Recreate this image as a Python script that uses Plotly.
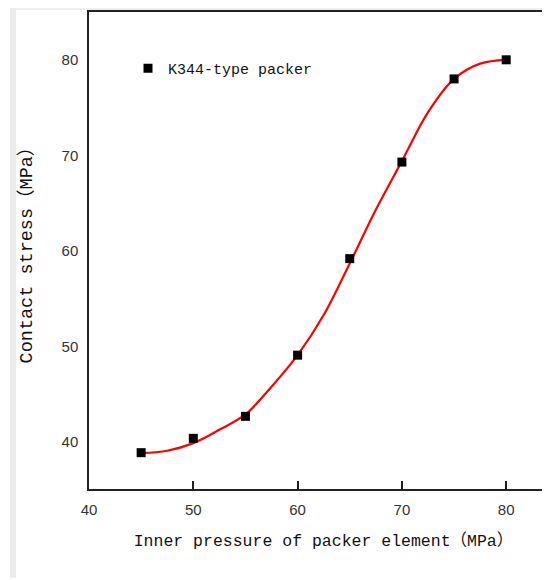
import plotly.graph_objects as go

# Data
inner_pressure = [45, 50, 55, 60, 65, 70, 75, 80]
contact_stress = [38.9, 40.4, 42.7, 49.1, 59.2, 69.3, 78.0, 80.0]
series_name = "K344-type packer"

# Fitted (red) curve
curve_x = [45, 47.5, 50, 52.5, 55, 57.5, 60, 62.5, 65, 67.5, 70, 72.5, 75, 77.5, 80]
curve_y = [38.85, 39.1, 39.9, 41.3, 42.9, 45.8, 49.1, 53.3, 58.7, 64.3, 69.4, 74.5, 78.0, 79.6, 80.0]

x_ticks = [40, 50, 60, 70, 80]
y_ticks = [40, 50, 60, 70, 80]

CJK = "<span style='font-family:\"Noto Sans CJK SC\"'>{}</span>"
x_title = "Inner pressure of packer element" + CJK.format("（") + "MPa" + CJK.format("）")
y_title = "Contact stress" + CJK.format("（") + "MPa" + CJK.format("）")

# page body offset of the html page (default body margin)
OFF = 8
W, H = 550, 580
L, T = 89 - OFF, 12 - OFF
B = H - (489 - OFF)
R = 0
pw, ph = W - L - R, H - T - B

fig = go.Figure()
fig.add_trace(go.Scatter(x=curve_x, y=curve_y, mode="lines",
                         line=dict(color="#ff0000", width=2.2, shape="spline", smoothing=1.0),
                         showlegend=False, hoverinfo="skip"))
fig.add_trace(go.Scatter(x=inner_pressure, y=contact_stress, mode="markers",
                         name=series_name,
                         marker=dict(symbol="square", size=9, color="black")))

def px(xpage):
    return (xpage - OFF - L) / pw

def py(ypage):
    return (H - B - (ypage - OFF)) / ph

shapes = [
    dict(type="rect", xref="paper", yref="paper", x0=px(10), x1=px(560), y0=py(10), y1=py(8),
         fillcolor="#efefef", line=dict(width=0), layer="below"),
    dict(type="rect", xref="paper", yref="paper", x0=px(10), x1=px(16), y0=py(578), y1=py(8),
         fillcolor="#ebebeb", line=dict(width=0), layer="below"),
]

mono = "Liberation Mono, Courier New, monospace"
tickfont = dict(family="Liberation Sans Narrow, Arial Narrow, sans-serif", size=15, color="#333333")
xtitlefont = dict(family=mono, size=16.5, color="#111111")
ytitlefont = dict(family=mono, size=18.5, color="#111111")

fig.update_layout(
    width=W, height=H,
    margin=dict(l=L, r=R, t=T, b=B, autoexpand=False),
    paper_bgcolor="white", plot_bgcolor="white",
    shapes=shapes,
    showlegend=True,
    legend=dict(x=px(128), y=py(52), xanchor="left", yanchor="top",
                bgcolor="rgba(0,0,0,0)",
                font=dict(family=mono, size=15, color="#111111")),
    xaxis=dict(range=[40, 40 + pw / 104.3 * 10], tickvals=x_ticks, automargin=False,
               showline=True, linecolor="#222222", linewidth=1.5, mirror=True,
               ticks="inside", ticklen=8, tickcolor="#222222", tickwidth=1.5,
               ticklabelstandoff=6,
               showgrid=False, zeroline=False, tickfont=tickfont,
               title=dict(text=x_title, font=xtitlefont, standoff=18)),
    yaxis=dict(range=[35.1, 85.0], tickvals=y_ticks, automargin=False,
               showline=True, linecolor="#222222", linewidth=1.5, mirror=False,
               ticks="", ticklabelstandoff=6,
               showgrid=False, zeroline=False, tickfont=tickfont,
               title=dict(text=y_title, font=ytitlefont, standoff=24)),
)

fig.write_html("out.html")
